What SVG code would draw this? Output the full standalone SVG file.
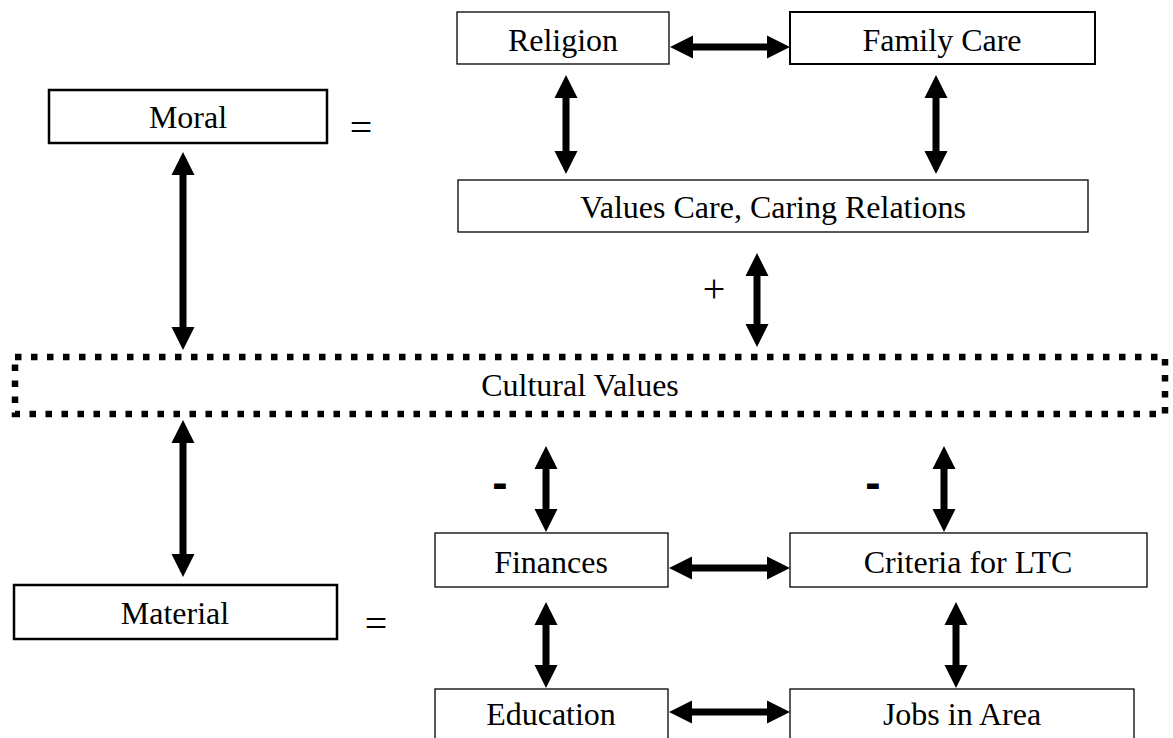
<svg xmlns="http://www.w3.org/2000/svg" width="1173" height="738" viewBox="0 0 1173 738">
<style>
.box{fill:#fff;stroke:#000;stroke-width:1.3}
.thick{fill:#fff;stroke:#000;stroke-width:2.5}
.dot{fill:none;stroke:#000;stroke-width:6.5;stroke-dasharray:6.5 9.5}
.lbl{font-family:"Liberation Serif","Times New Roman",serif;font-size:32px;fill:#000;text-anchor:middle}
.sym{font-family:"Liberation Serif","Times New Roman",serif;font-size:40px;fill:#000;text-anchor:middle}
.minus{font-family:"Liberation Sans",Arial,sans-serif;font-weight:bold;font-size:46px;fill:#000;text-anchor:middle}
.arr{fill:#000;stroke:none}
</style>
<rect width="1173" height="738" fill="#fff"/>
<g id="connectors">
<path class="arr" d="M670,47 l23,-11.5 v8 H767 v-8 L790,47 l-23,11.5 v-8 H693 v8 Z"/>
<path class="arr" d="M669,568 l23,-11.5 v8 H767 v-8 L790,568 l-23,11.5 v-8 H692 v8 Z"/>
<path class="arr" d="M669,712 l23,-11.5 v8 H767 v-8 L790,712 l-23,11.5 v-8 H692 v8 Z"/>
<path class="arr" d="M566,75 l11.5,23 h-8 V151 h8 L566,174 l-11.5,-23 h8 V98 h-8 Z"/>
<path class="arr" d="M936,75 l11.5,23 h-8 V151 h8 L936,174 l-11.5,-23 h8 V98 h-8 Z"/>
<path class="arr" d="M757,253 l11.5,23 h-8 V324 h8 L757,347 l-11.5,-23 h8 V276 h-8 Z"/>
<path class="arr" d="M183,152 l11.5,23 h-8 V327 h8 L183,350 l-11.5,-23 h8 V175 h-8 Z"/>
<path class="arr" d="M183,420 l11.5,23 h-8 V554 h8 L183,577 l-11.5,-23 h8 V443 h-8 Z"/>
<path class="arr" d="M546,446 l11.5,23 h-8 V509 h8 L546,532 l-11.5,-23 h8 V469 h-8 Z"/>
<path class="arr" d="M944,446 l11.5,23 h-8 V509 h8 L944,532 l-11.5,-23 h8 V469 h-8 Z"/>
<path class="arr" d="M546,602 l11.5,23 h-8 V665 h8 L546,688 l-11.5,-23 h8 V625 h-8 Z"/>
<path class="arr" d="M956,602 l11.5,23 h-8 V665 h8 L956,688 l-11.5,-23 h8 V625 h-8 Z"/>
<text class="sym" x="361" y="141">=</text>
<text class="sym" x="376" y="637">=</text>
<text class="sym" x="714" y="302">+</text>
<text class="minus" x="500" y="498">-</text>
<text class="minus" x="873" y="498">-</text>
</g>
<g id="religion"><rect class="box" x="457" y="12" width="212" height="52"/><text class="lbl" x="563" y="51">Religion</text></g>
<g id="family-care"><rect class="box" style="stroke-width:2" x="790" y="12" width="305" height="52"/><text class="lbl" x="942" y="51">Family Care</text></g>
<g id="moral"><rect class="thick" x="49" y="90" width="278" height="53"/><text class="lbl" x="188" y="128">Moral</text></g>
<g id="values-care"><rect class="box" x="458" y="180" width="630" height="52"/><text class="lbl" x="773" y="218">Values Care, Caring Relations</text></g>
<g id="cultural-values"><rect class="dot" x="15" y="357" width="1150" height="57"/><text class="lbl" x="580" y="396">Cultural Values</text></g>
<g id="finances"><rect class="box" x="435" y="533" width="233" height="54"/><text class="lbl" x="551" y="573">Finances</text></g>
<g id="criteria"><rect class="box" x="790" y="533" width="357" height="54"/><text class="lbl" x="968" y="573">Criteria for LTC</text></g>
<g id="material"><rect class="thick" x="14" y="585" width="323" height="54"/><text class="lbl" x="175" y="624">Material</text></g>
<g id="education"><rect class="box" x="435" y="689" width="233" height="60"/><text class="lbl" x="551" y="725">Education</text></g>
<g id="jobs"><rect class="box" x="790" y="689" width="344" height="60"/><text class="lbl" x="962" y="725">Jobs in Area</text></g>
</svg>
